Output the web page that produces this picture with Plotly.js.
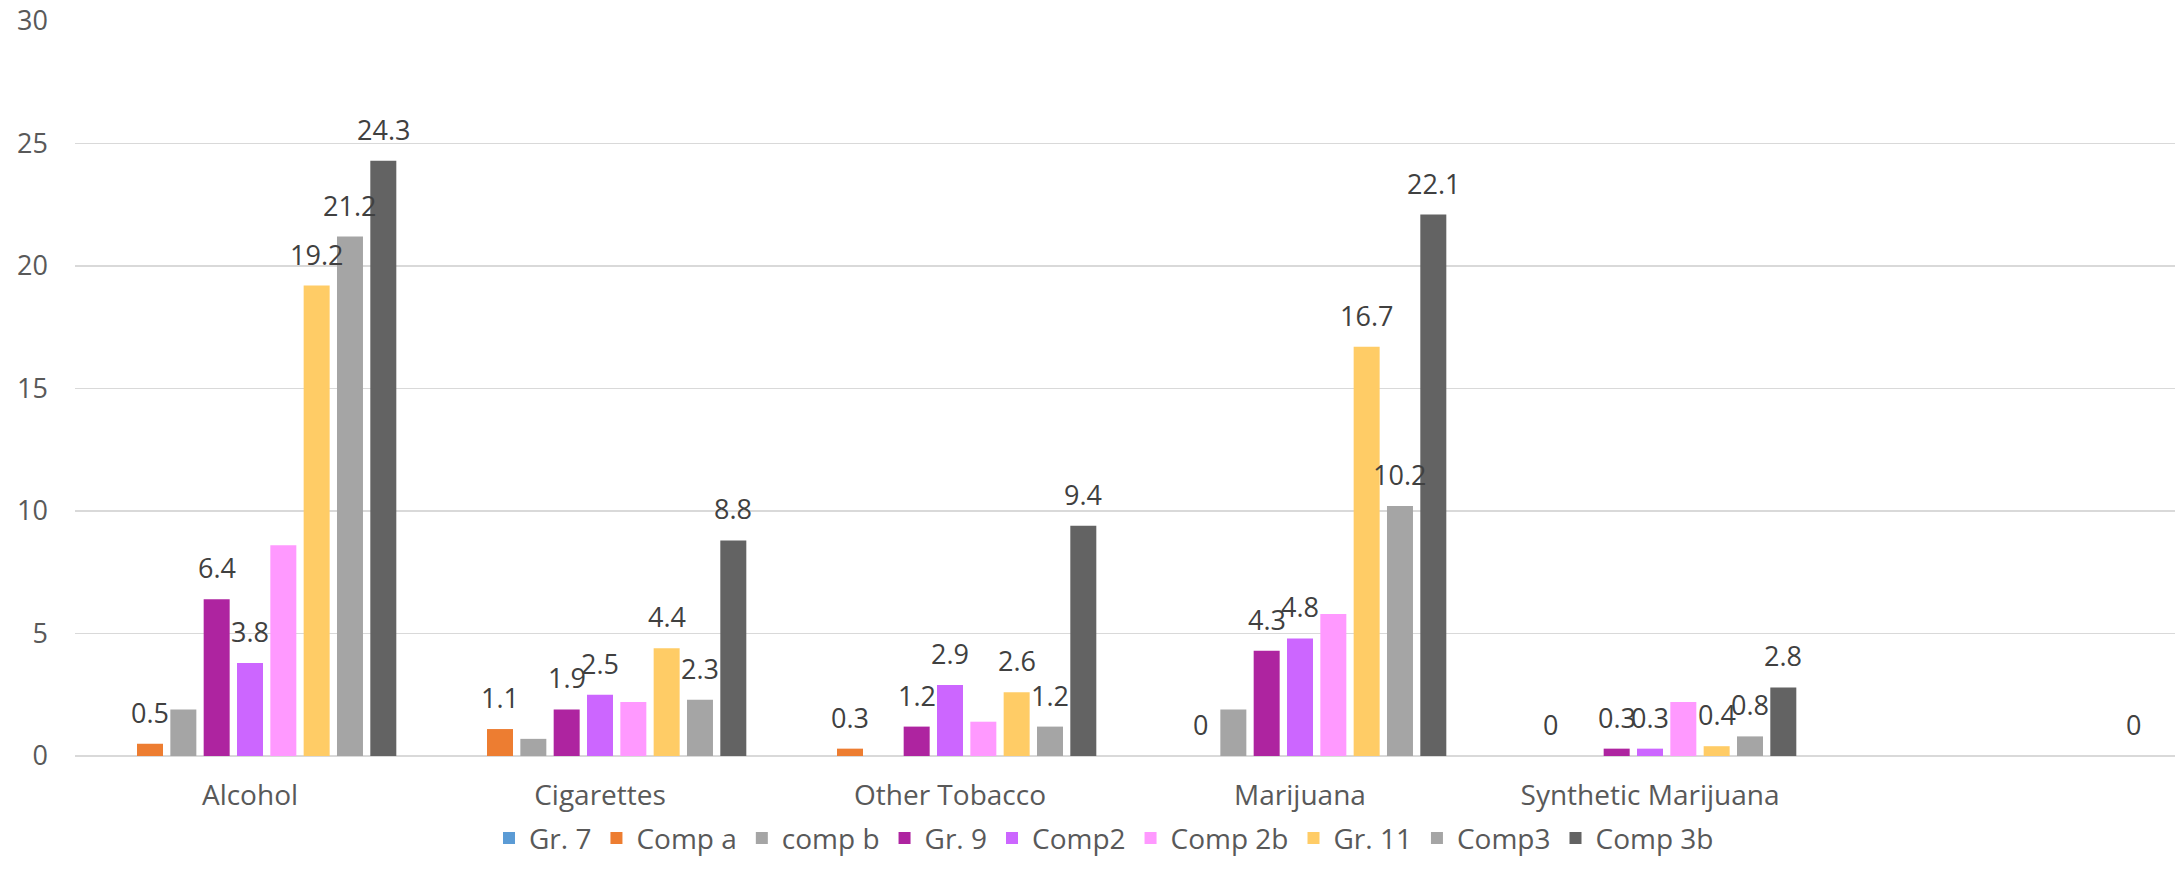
<!DOCTYPE html>
<html>
<head>
<meta charset="utf-8">
<script src="https://cdn.plot.ly/plotly-3.0.1.min.js"></script>
<style>
  html, body { margin: 0; padding: 0; background: #fff; }
  #plot { width: 2176px; height: 875px; }
</style>
</head>
<body>
<div id="plot"></div>
<script>
// categories (last one has no name in the source chart)
const categories = ["Alcohol", "Cigarettes", "Other Tobacco", "Marijuana", "Synthetic Marijuana", " "];

const seriesNames = ["Gr. 7", "Comp a", "comp b", "Gr. 9", "Comp2", "Comp 2b", "Gr. 11", "Comp3", "Comp 3b"];

const gr7    = [null, null, null, null, null, null];
const compA  = [0.5, 1.1, 0.3, 0, 0, null];
const compB  = [1.9, 0.7, null, 1.9, null, null];
const gr9    = [6.4, 1.9, 1.2, 4.3, 0.3, null];
const comp2  = [3.8, 2.5, 2.9, 4.8, 0.3, null];
const comp2b = [8.6, 2.2, 1.4, 5.8, 2.2, null];
const gr11   = [19.2, 4.4, 2.6, 16.7, 0.4, null];
const comp3  = [21.2, 2.3, 1.2, 10.2, 0.8, null];
const comp3b = [24.3, 8.8, 9.4, 22.1, 2.8, 0];

const seriesValues = [gr7, compA, compB, gr9, comp2, comp2b, gr11, comp3, comp3b];
const colors = ["#5B9BD5", "#ED7D31", "#A5A5A5", "#AE24A0", "#CC66FF", "#FF99FF", "#FFCC66", "#A5A5A5", "#636363"];
// which series show value labels in the original
const labelled = [false, true, false, true, true, false, true, true, true];

const FONT = "Open Sans, Lato, sans-serif";

const W = 2176, H = 875;
const margin = { l: 75, r: 1, t: 21, b: 119 };
const BARGAP = 0.143;

const traces = seriesNames.map((name, i) => ({
  type: "bar",
  name,
  x: categories,
  y: seriesValues[i],
  marker: { color: colors[i], line: { width: 0 } },
  hoverinfo: "x+y+name"
}));

// value labels: annotations sitting above each bar of the labelled series
const catWidth = (W - margin.l - margin.r) / categories.length;
const slot = catWidth * (1 - BARGAP) / seriesNames.length;
const annotations = [];
seriesNames.forEach((name, i) => {
  if (!labelled[i]) return;
  seriesValues[i].forEach((v, j) => {
    if (v === null) return;
    annotations.push({
      x: categories[j], y: v, xref: "x", yref: "y",
      xshift: (i - (seriesNames.length - 1) / 2) * slot,
      yshift: 11,
      yanchor: "bottom",
      showarrow: false,
      text: String(v),
      font: { family: FONT, size: 27, color: "#404040" }
    });
  });
});

const layout = {
  width: W,
  height: H,
  paper_bgcolor: "#fff",
  plot_bgcolor: "#fff",
  margin: Object.assign({ autoexpand: false }, margin),
  barmode: "group",
  bargap: BARGAP,
  bargroupgap: 0.22,
  font: { family: FONT, size: 27, color: "#595959" },
  showlegend: true,
  legend: {
    orientation: "h",
    x: 0.49, xanchor: "center",
    y: -0.112, yanchor: "middle",
    font: { family: FONT, size: 28, color: "#595959" },
    itemclick: false
  },
  annotations,
  xaxis: {
    type: "category",
    showgrid: false,
    showline: false,
    zeroline: false,
    ticks: "",
    ticklabelstandoff: 20,
    tickfont: { family: FONT, size: 28, color: "#595959" }
  },
  yaxis: {
    range: [0, 30],
    dtick: 5,
    showgrid: true,
    gridcolor: "#D9D9D9",
    gridwidth: 1.5,
    zeroline: true,
    zerolinecolor: "#D9D9D9",
    zerolinewidth: 2,
    showline: false,
    ticks: "",
    ticklabelstandoff: 26,
    tickfont: { family: FONT, size: 27, color: "#595959" }
  }
};

Plotly.newPlot("plot", traces, layout, { staticPlot: true });
</script>
</body>
</html>
